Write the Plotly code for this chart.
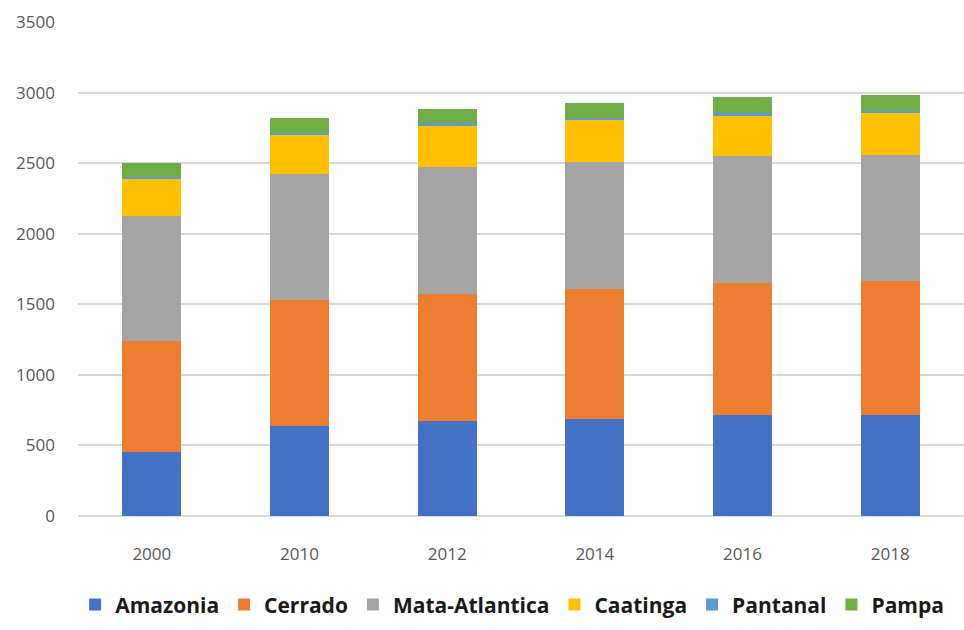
import plotly.graph_objects as go

years = ["2000", "2010", "2012", "2014", "2016", "2018"]

amazonia = [450, 640, 675, 690, 715, 715]
cerrado = [790, 890, 900, 920, 935, 950]
mata_atlantica = [885, 895, 900, 900, 900, 895]
caatinga = [265, 280, 295, 300, 290, 300]
pantanal = [12, 12, 12, 12, 12, 12]
pampa = [100, 100, 100, 105, 115, 110]

series = [
    ("Amazonia", amazonia, "#4472C4"),
    ("Cerrado", cerrado, "#ED7D31"),
    ("Mata-Atlantica", mata_atlantica, "#A5A5A5"),
    ("Caatinga", caatinga, "#FFC000"),
    ("Pantanal", pantanal, "#5B9BD5"),
    ("Pampa", pampa, "#70AD47"),
]

fig = go.Figure()
for name, vals, color in series:
    fig.add_trace(go.Bar(
        x=years, y=vals, name=name,
        marker=dict(color=color, line=dict(width=0)),
    ))

tick_font = dict(size=17, color="#595959", family="Open Sans")

fig.update_layout(
    barmode="stack",
    bargap=0.6,
    width=964, height=630,
    margin=dict(l=78, r=0, t=22, b=114),
    paper_bgcolor="white",
    plot_bgcolor="white",
    font=dict(family="Open Sans, sans-serif", color="#595959"),
    xaxis=dict(
        type="category",
        tickfont=tick_font,
        showgrid=False, ticks="", showline=False,
        ticklabelstandoff=26,
    ),
    yaxis=dict(
        range=[0, 3500], dtick=500,
        tickfont=tick_font,
        gridcolor="#D9D9D9", gridwidth=1.5,
        zeroline=True, zerolinecolor="#D9D9D9", zerolinewidth=1.5,
        ticks="", ticklabelstandoff=22,
    ),
    legend=dict(
        orientation="h",
        x=0.49, xanchor="center",
        y=-0.18, yanchor="middle",
        font=dict(size=21, color="#1a1a1a", family="Open Sans", weight="bold"),
        itemwidth=30, tracegroupgap=0,
        traceorder="normal",
    ),
)

fig.write_html("out.html")
